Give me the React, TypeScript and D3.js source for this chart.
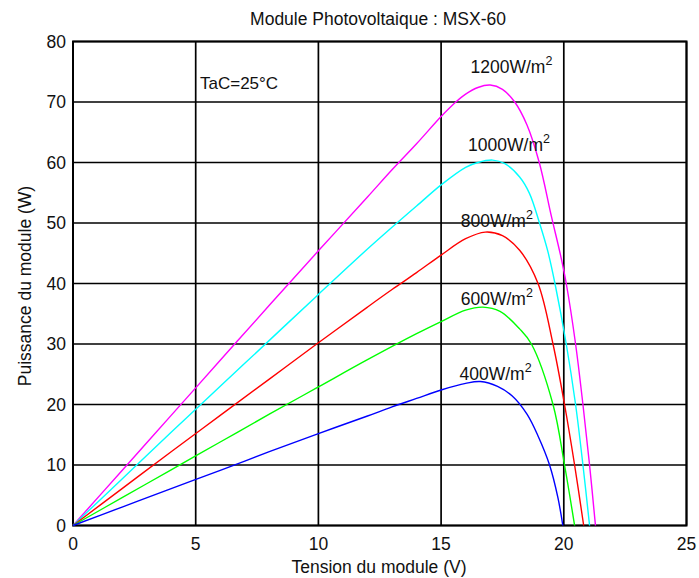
import React, { useEffect } from "react";
import * as d3 from "d3";

type Pt = [number, number];

const title = "Module Photovoltaique : MSX-60";
const xLabel = "Tension du module (V)";
const yLabel = "Puissance du module (W)";
const note = "TaC=25°C";
const xTicks = [0, 5, 10, 15, 20, 25];
const yTicks = [0, 10, 20, 30, 40, 50, 60, 70, 80];

const irradiances = ["1200W/m", "1000W/m", "800W/m", "600W/m", "400W/m"];
const colors = ["#ff00ff", "#00ffff", "#ff0000", "#00ff00", "#0000ff"];

const p1200: Pt[] = [[0,0],[2,9.1],[4,18.2],[6,27.3],[8,36.4],[10,45.4],[12,54.3],[13,58.8],[14,63.1],[15,67.6],[15.6,70],[16,71.3],[16.5,72.4],[17,72.8],[17.5,72.1],[18,70],[18.5,66.2],[19,60],[19.5,51],[19.86,44.8],[20.1,40],[20.48,30],[20.78,20],[21.05,10],[21.29,0]];
const p1000: Pt[] = [[0,0],[2,7.7],[4,15.4],[6,23.0],[8,30.6],[10,38.2],[12,45.7],[13,49.3],[14,52.8],[15,56.3],[16,59.2],[16.5,60.0],[17.1,60.4],[17.6,59.8],[18.2,57.6],[18.6,54.9],[19.01,50],[19.35,45.3],[19.64,40],[20.1,30],[20.48,20],[20.78,10],[21.05,0]];
const p800: Pt[] = [[0,0],[2,6.1],[4,12.2],[6,18.2],[8,24.2],[10,30.2],[12,36.1],[13,39.0],[14,41.8],[15,44.7],[16,47.4],[16.8,48.5],[17.5,47.9],[18.2,45.5],[18.95,40],[19.56,30],[20.03,20],[20.44,10],[20.81,0]];
const p600: Pt[] = [[0,0],[2,4.6],[4,9.2],[6,13.8],[8,18.4],[10,22.9],[12,27.4],[14,31.7],[15,33.7],[16,35.6],[16.7,36.1],[17.4,35.4],[18.2,32.5],[18.68,30],[19.56,20],[20.03,10],[20.44,0]];
const p400: Pt[] = [[0,0],[2,3.05],[4,6.1],[6,9.1],[8,12.2],[10,15.2],[12,18.1],[13,19.6],[14,21.0],[15,22.4],[16,23.5],[16.6,23.8],[17.3,23.0],[17.9,21.4],[18.5,18.4],[18.95,14.8],[19.42,10],[19.76,4.6],[19.96,0]];

const seriesData: Pt[][] = [p1200, p1000, p800, p600, p400];
// label anchor in data units (voltage, power) for each series label
const labelX = [16.2, 16.1, 15.8, 15.8, 15.75];
const labelY = [74.8, 61.9, 49.3, 36.5, 24.1];

const W = 699;
const H = 578;
const FONT = "'Liberation Sans', Arial, Helvetica, sans-serif";

export default function App() {
  useEffect(() => {
    document.body.style.margin = "0";
  }, []);

  const x = d3.scaleLinear().domain([0, 25]).range([73, 686.5]);
  const y = d3.scaleLinear().domain([0, 80]).range([525.5, 41.5]);
  const line = d3
    .line<Pt>()
    .x((d) => x(d[0]))
    .y((d) => y(d[1]))
    .curve(d3.curveCatmullRom.alpha(0.5));

  return (
    <svg width={W} height={H} style={{ display: "block", background: "#fff" }} fontFamily={FONT}>
      <text x={378} y={25} textAnchor="middle" fontSize={17.5} fill="#111">
        {title}
      </text>
      {/* grid */}
      {xTicks.map((t) => (
        <line key={"gx" + t} x1={x(t)} x2={x(t)} y1={y(0)} y2={y(80)} stroke="#000" strokeWidth={1.7} />
      ))}
      {yTicks.map((t) => (
        <line key={"gy" + t} x1={x(0)} x2={x(25)} y1={y(t)} y2={y(t)} stroke="#000" strokeWidth={1.7} />
      ))}
      <rect x={x(0)} y={y(80)} width={x(25) - x(0)} height={y(0) - y(80)} fill="none" stroke="#000" strokeWidth={2} />
      {/* tick labels */}
      {yTicks.map((t) => (
        <text key={"ly" + t} x={66} y={y(t)} dy="0.36em" textAnchor="end" fontSize={17.5} fill="#111">
          {t}
        </text>
      ))}
      {xTicks.map((t) => (
        <text key={"lx" + t} x={x(t)} y={550} textAnchor="middle" fontSize={17.5} fill="#111">
          {t}
        </text>
      ))}
      <text x={379} y={573} textAnchor="middle" fontSize={17.5} fill="#111">
        {xLabel}
      </text>
      <text transform={`translate(31,286) rotate(-90)`} textAnchor="middle" fontSize={17.5} fill="#111">
        {yLabel}
      </text>
      <text x={200} y={89} fontSize={17} fill="#111">
        {note}
      </text>
      {/* curves */}
      {seriesData.map((d, i) => (
        <path key={"c" + i} d={line(d) || ""} fill="none" stroke={colors[i]} strokeWidth={1.4} />
      ))}
      {/* labels */}
      {irradiances.map((lab, i) => (
        <text key={"t" + i} x={x(labelX[i])} y={y(labelY[i])} fontSize={17.5} fill="#111">
          {lab}
          <tspan fontSize={12.5} dy={-8}>2</tspan>
        </text>
      ))}
    </svg>
  );
}
